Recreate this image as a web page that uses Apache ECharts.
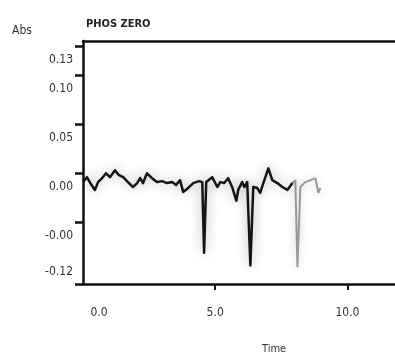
<!DOCTYPE html>
<html>
<head>
<meta charset="utf-8">
<script src="https://cdn.jsdelivr.net/npm/echarts@6/dist/echarts.min.js"></script>
<style>html,body{margin:0;padding:0;background:#fff}#c{width:395px;height:361px}</style>
</head>
<body>
<div id="c"></div>
<script>
// Main (dark) trace: time (min) and absorbance
var timeMain = [0.00,0.15,0.30,0.45,0.57,0.72,0.87,1.02,1.21,1.36,1.52,1.70,1.89,2.05,2.16,2.27,2.42,2.61,2.80,2.99,3.18,3.37,3.52,3.67,3.79,3.98,4.17,4.39,4.51,4.58,4.66,4.89,5.08,5.19,5.34,5.49,5.64,5.80,5.87,6.02,6.10,6.21,6.33,6.44,6.59,6.70,6.82,7.01,7.16,7.35,7.54,7.73,7.92];
var absMain = [-0.009,-0.004,-0.011,-0.017,-0.009,-0.005,0.000,-0.004,0.003,-0.002,-0.004,-0.009,-0.014,-0.010,-0.005,-0.010,0.000,-0.005,-0.009,-0.008,-0.010,-0.009,-0.012,-0.007,-0.019,-0.015,-0.010,-0.008,-0.009,-0.081,-0.009,-0.004,-0.014,-0.009,-0.010,-0.005,-0.014,-0.028,-0.017,-0.009,-0.014,-0.009,-0.094,-0.014,-0.015,-0.020,-0.010,0.005,-0.007,-0.010,-0.014,-0.017,-0.010];
// Faint tail trace
var timeTail = [7.92,8.03,8.11,8.22,8.41,8.60,8.79,8.90,8.98];
var absTail = [-0.010,-0.007,-0.096,-0.014,-0.009,-0.007,-0.005,-0.020,-0.015];
// Axis ticks
var yTickValues = [0.13, 0.10, 0.05, 0.00, -0.05, -0.113];
var yTickLabels = ['0.13', '0.10', '0.05', '0.00', '-0.00', '-0.12'];
var xTickValues = [5, 10];
var xTickLabels = ['0.0', '5.0', '10.0'];

function pairs(xs, ys) { return xs.map(function (x, i) { return [x, ys[i]]; }); }
var FONT = '"DejaVu Sans Condensed", "Liberation Sans Narrow", "Liberation Sans", sans-serif';

var chart = echarts.init(document.getElementById('c'), null, {renderer: 'canvas'});
chart.setOption({
  animation: false,
  backgroundColor: '#fff',
  grid: {left: 83, right: 0, top: 41, bottom: 77, containLabel: false},
  graphic: [
    {type: 'text', left: 12, top: 25, style: {text: 'Abs', font: '12px ' + FONT, fill: '#333'}},
    {type: 'text', left: 86, top: 19, style: {text: 'PHOS ZERO', font: 'bold 11px ' + FONT, fill: '#222'}},
    {type: 'text', left: 262, top: 344, style: {text: 'Time', font: '11px ' + FONT, fill: '#333'}}
  ],
  xAxis: [{
    type: 'value', min: 0, max: 11.8, interval: 5,
    axisLine: {show: true, onZero: false, lineStyle: {color: '#111', width: 2.5}},
    axisTick: {show: true, length: 6, customValues: xTickValues, lineStyle: {color: '#111', width: 2}},
    splitLine: {show: false},
    axisLabel: {
      margin: 23, color: '#333', fontSize: 12, fontFamily: FONT, showMaxLabel: false,
      formatter: function (v) {
        var i = Math.round(v / 5);
        return i === 0 ? '{first|' + xTickLabels[0] + '}' : (xTickLabels[i] || '');
      },
      rich: {first: {padding: [0, 0, 0, 32], fontSize: 12, fontFamily: FONT, color: '#333'}}
    }
  }, {
    type: 'value', position: 'top', min: 0, max: 11.8,
    axisLine: {show: true, onZero: false, lineStyle: {color: '#111', width: 2.5}},
    axisTick: {show: false}, axisLabel: {show: false}, splitLine: {show: false}
  }],
  yAxis: {
    type: 'value', min: -0.113, max: 0.135,
    axisLine: {show: true, onZero: false, lineStyle: {color: '#111', width: 2.5}},
    axisTick: {show: true, length: 8, customValues: yTickValues, lineStyle: {color: '#111', width: 2.5}},
    splitLine: {show: false},
    axisLabel: {
      customValues: yTickValues, margin: 10, color: '#333', fontSize: 12, fontFamily: FONT,
      formatter: function (v) {
        var i = yTickValues.indexOf(v);
        if (i < 0) { return ''; }
        return (i === yTickValues.length - 1 ? '{up|' : '{dn|') + yTickLabels[i] + '}';
      },
      rich: {
        dn: {padding: [28, 0, 0, 0], fontSize: 12, fontFamily: FONT, color: '#333'},
        up: {padding: [0, 0, 25, 0], fontSize: 12, fontFamily: FONT, color: '#333'}
      }
    }
  },
  series: [
    {type: 'line', data: pairs(timeTail, absTail), showSymbol: false, silent: true,
     lineStyle: {color: '#999', width: 2, shadowBlur: 8, shadowColor: 'rgba(0,0,0,0.2)'}, z: 2},
    {type: 'line', data: pairs(timeMain, absMain), showSymbol: false, silent: true,
     lineStyle: {color: '#151515', width: 2.5, join: 'round', shadowBlur: 12, shadowColor: 'rgba(0,0,0,0.35)'}, z: 3}
  ]
});
</script>
</body>
</html>
